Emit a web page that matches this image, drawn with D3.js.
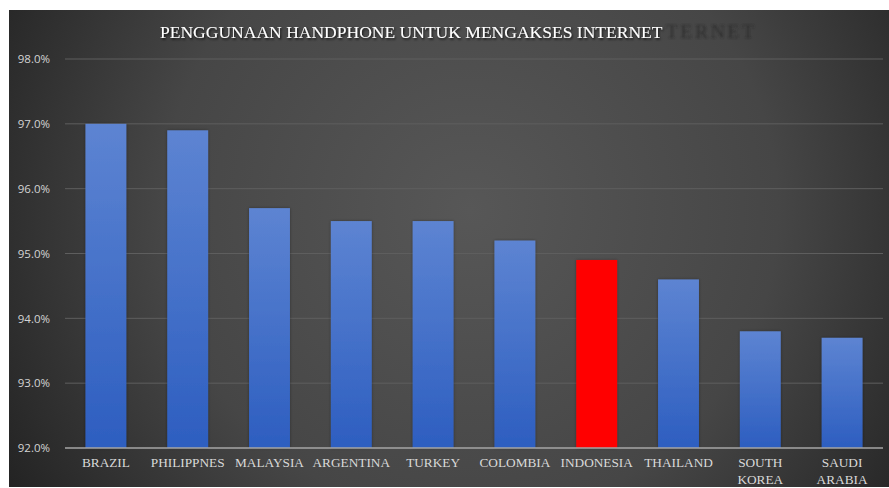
<!DOCTYPE html>
<html><head><meta charset="utf-8">
<script src="https://cdn.jsdelivr.net/npm/d3@7"></script>
<style>html,body{margin:0;padding:0;background:#fff;}svg{display:block;}</style>
</head><body>
<svg id="c" width="889" height="488"></svg>
<script>
const categories = ["BRAZIL","PHILIPPNES","MALAYSIA","ARGENTINA","TURKEY","COLOMBIA","INDONESIA","THAILAND","SOUTH KOREA","SAUDI ARABIA"];
const values = [97.0, 96.9, 95.7, 95.5, 95.5, 95.2, 94.9, 94.6, 93.8, 93.7];
const highlight = ["INDONESIA"];
const yTicks = [92, 93, 94, 95, 96, 97, 98];
const title = "PENGGUNAAN HANDPHONE UNTUK MENGAKSES INTERNET";
const ghost = "TERNET";

const svg = d3.select("#c");
const defs = svg.append("defs");
const bg = defs.append("radialGradient").attr("id","bg").attr("gradientUnits","userSpaceOnUse")
  .attr("cx",470).attr("cy",210).attr("r",560);
bg.append("stop").attr("offset","0%").attr("stop-color","#575757");
bg.append("stop").attr("offset","55%").attr("stop-color","#464646");
bg.append("stop").attr("offset","100%").attr("stop-color","#202020");
const bar = defs.append("linearGradient").attr("id","bar").attr("x1",0).attr("y1",0).attr("x2",0).attr("y2",1);
bar.append("stop").attr("offset","0%").attr("stop-color","#5d84d2");
bar.append("stop").attr("offset","100%").attr("stop-color","#2d5ec0");
const sh = defs.append("filter").attr("id","ts").attr("x","-5%").attr("y","-30%").attr("width","110%").attr("height","160%");
sh.append("feDropShadow").attr("dx",1).attr("dy",1.5).attr("stdDeviation",1).attr("flood-color","#000").attr("flood-opacity",0.8);
const bs = defs.append("filter").attr("id","bs").attr("x","-20%").attr("y","-5%").attr("width","140%").attr("height","110%");
bs.append("feDropShadow").attr("dx",0).attr("dy",0).attr("stdDeviation",1.5).attr("flood-color","#000").attr("flood-opacity",0.35);
const gb = defs.append("filter").attr("id","gb");
gb.append("feGaussianBlur").attr("stdDeviation",0.9);

svg.append("rect").attr("x",9).attr("y",10).attr("width",880).attr("height",477).attr("fill","url(#bg)");

const x = d3.scaleBand().domain(categories).range([65, 883]).paddingInner(0.5).paddingOuter(0.25);
const y = d3.scaleLinear().domain([92, 98]).range([448, 59]);

// gridlines
svg.append("g").selectAll("line").data(yTicks.filter(t => t !== 92)).join("line")
  .attr("x1",65).attr("x2",883).attr("y1",d=>y(d)).attr("y2",d=>y(d))
  .attr("stroke","#5e5e5e").attr("stroke-width",1);

// y axis labels
const yAxis = d3.axisLeft(y).tickValues(yTicks).tickFormat(d => d3.format(".1f")(d) + "%").tickSize(0).tickPadding(0);
const ya = svg.append("g").attr("transform","translate(50,0)").call(yAxis);
ya.select(".domain").remove();
ya.selectAll("text").attr("fill","#d4d4d4").attr("font-family","'Open Sans', 'Liberation Sans', sans-serif").attr("font-size","11.5px");

// bars
svg.append("g").selectAll("rect").data(categories).join("rect")
  .attr("x", d => x(d)).attr("width", x.bandwidth())
  .attr("y", (d,i) => y(values[i])).attr("height", (d,i) => y(92) - y(values[i]))
  .attr("fill", d => highlight.includes(d) ? "#ff0000" : "url(#bar)")
  .attr("filter","url(#bs)");

// baseline
svg.append("line").attr("x1",65).attr("x2",883).attr("y1",y(92)).attr("y2",y(92))
  .attr("stroke","#a6a6a6").attr("stroke-width",1.5);

// x labels
const xl = svg.append("g").selectAll("text").data(categories).join("text")
  .attr("x", d => x(d) + x.bandwidth()/2).attr("y", 467)
  .attr("text-anchor","middle").attr("fill","#d9d9d9")
  .attr("font-family","'Liberation Serif', 'Times New Roman', serif").attr("font-size","13.3px");
xl.each(function(d){
  const words = d.split(" ");
  const t = d3.select(this);
  if (words.length > 1) {
    words.forEach((w,i) => t.append("tspan").attr("x", x(d) + x.bandwidth()/2).attr("dy", i === 0 ? 0 : 17).text(w));
  } else t.text(d);
});

// ghost text
svg.append("text").attr("x",666).attr("y",38).attr("fill","#2a2a2a").attr("opacity",0.8)
  .attr("font-family","'Liberation Serif', 'Times New Roman', serif").attr("font-size","19px")
  .attr("letter-spacing","3px").attr("filter","url(#gb)").text(ghost);

// title
const tt = svg.append("text").attr("x",160).attr("y",38).attr("fill","#ffffff")
  .attr("font-family","'Liberation Serif', 'Times New Roman', serif").attr("font-size","19px")
  .attr("filter","url(#ts)").text(title);
const w = tt.node().getComputedTextLength();
tt.attr("font-size", (19 * 503 / w).toFixed(2) + "px");
</script>
</body></html>
